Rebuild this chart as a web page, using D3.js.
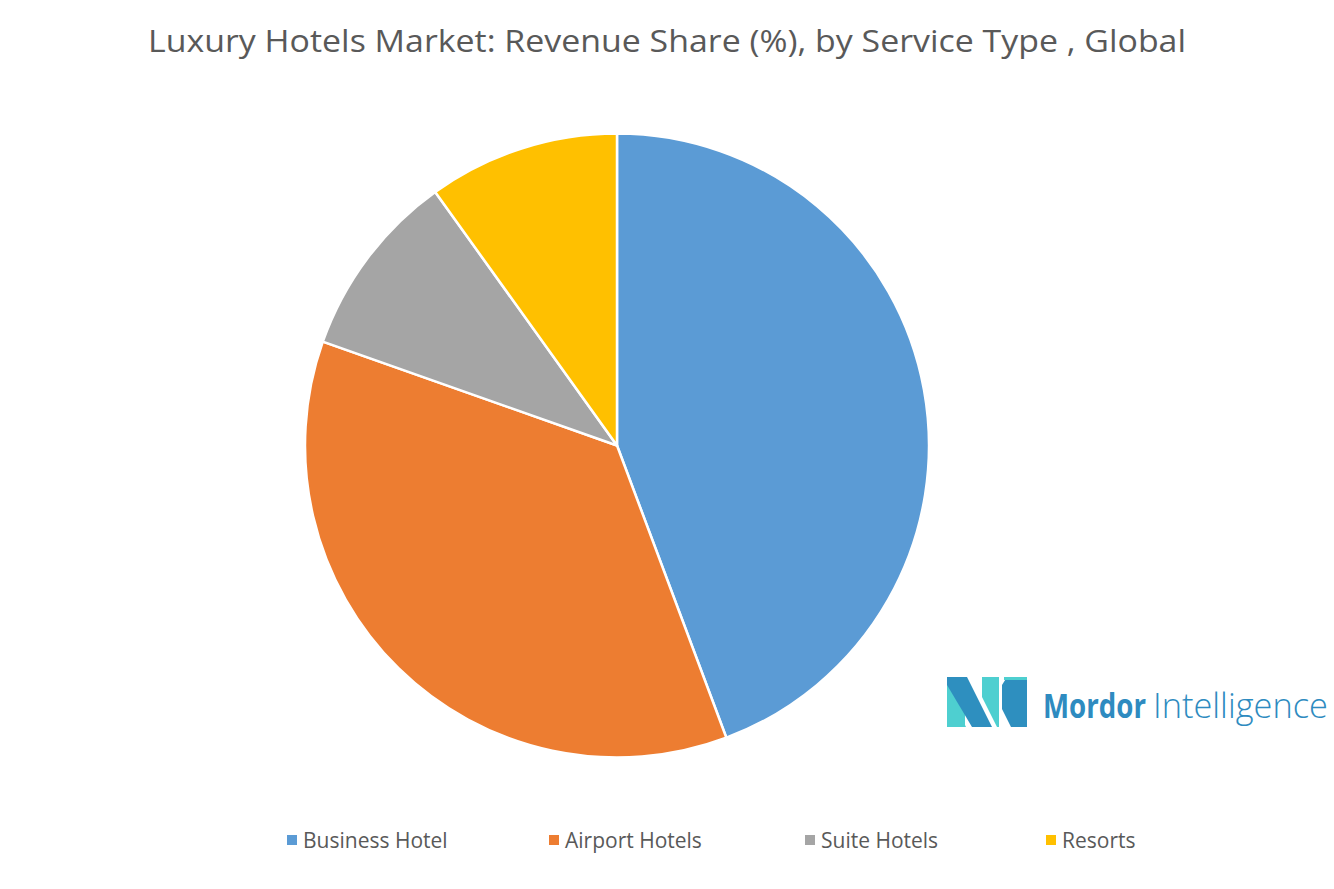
<html>
<head>
<meta charset="utf-8">
<title>Luxury Hotels Market</title>
<style>
  body { margin: 0; background: #fff; }
  text { font-family: "Open Sans", "Noto Sans", sans-serif; }
</style>
</head>
<body>
<div id="chart"></div>
<script src="https://cdn.jsdelivr.net/npm/d3@7"></script>
<script>
(function(){
  "use strict";

  // data
  var categories = ["Business Hotel", "Airport Hotels", "Suite Hotels", "Resorts"];
  var shares = [44.3, 36.1, 9.7, 9.9];
  var colours = ["#5B9BD5", "#ED7D31", "#A5A5A5", "#FFC000"];

  var width = 1334, height = 889;
  var cx = 617, cy = 445.5, radius = 312;

  var svg = d3.select("#chart").append("svg")
      .attr("width", width)
      .attr("height", height)
      .style("background", "#ffffff");

  // title
  svg.append("text")
      .attr("x", 667).attr("y", 52)
      .attr("text-anchor", "middle")
      .attr("font-size", 31)
      .attr("fill", "#595959")
      .attr("textLength", 1038)
      .attr("lengthAdjust", "spacingAndGlyphs")
      .text("Luxury Hotels Market: Revenue Share (%), by Service Type , Global");

  var pie = d3.pie().sort(null).value(function(d){ return d; });
  var arc = d3.arc().innerRadius(0).outerRadius(radius);
  var colour = d3.scaleOrdinal().domain(categories).range(colours);

  svg.append("g")
      .attr("transform", "translate(" + cx + "," + cy + ")")
      .selectAll("path")
      .data(pie(shares))
      .enter().append("path")
        .attr("d", arc)
        .attr("fill", function(d, i){ return colour(categories[i]); })
        .attr("stroke", "#ffffff")
        .attr("stroke-width", 2.5)
        .attr("stroke-linejoin", "round");

  // legend
  var legendX = d3.scaleOrdinal().domain(categories).range([287, 549, 805, 1046]);
  var legend = svg.append("g").selectAll("g")
      .data(categories)
      .enter().append("g")
        .attr("transform", function(d){ return "translate(" + legendX(d) + ",840)"; });
  legend.append("rect")
      .attr("x", 0).attr("y", -5)
      .attr("width", 10).attr("height", 10)
      .attr("fill", function(d){ return colour(d); });
  legend.append("text")
      .attr("x", 16).attr("y", 7.5)
      .attr("font-size", 21)
      .attr("fill", "#595959")
      .text(function(d){ return d; });

  // Mordor Intelligence logo
  var logo = svg.append("g").attr("transform", "translate(947,677)");
  logo.append("polygon").attr("points", "0,0 18,0 18,50 0,50").attr("fill", "#4ECFD0");
  logo.append("polygon").attr("points", "0,0 20,0 45,50 25,50 0,8").attr("fill", "#2E8FBF");
  logo.append("polygon").attr("points", "0,12 0,50 19,50").attr("fill", "#4ECFD0");
  logo.append("polygon").attr("points", "35,0 52,0 52,50 50,50 35,20").attr("fill", "#4ECFD0");
  logo.append("polygon").attr("points", "60,0 80,0 80,50 64,50 55,32 55,8").attr("fill", "#2E8FBF");
  logo.append("polygon").attr("points", "57,0 80,0 80,3 57,3").attr("fill", "#4ECFD0");

  // squeeze logo words horizontally to the widths in the picture
  function logoWord(x, word, weight, w) {
    var t = svg.append("text")
        .attr("font-size", 34)
        .attr("font-weight", weight)
        .attr("fill", "#2E8BC0")
        .attr("font-family", "Roboto, sans-serif")
        .text(word);
    var k = w / t.node().getComputedTextLength();
    t.attr("transform", "translate(" + x + ",718) scale(" + k + ",1)");
  }
  logoWord(1043, "Mordor", "bold", 103);
  logoWord(1153, "Intelligence", "300", 175);
})();
</script>
</body>
</html>
